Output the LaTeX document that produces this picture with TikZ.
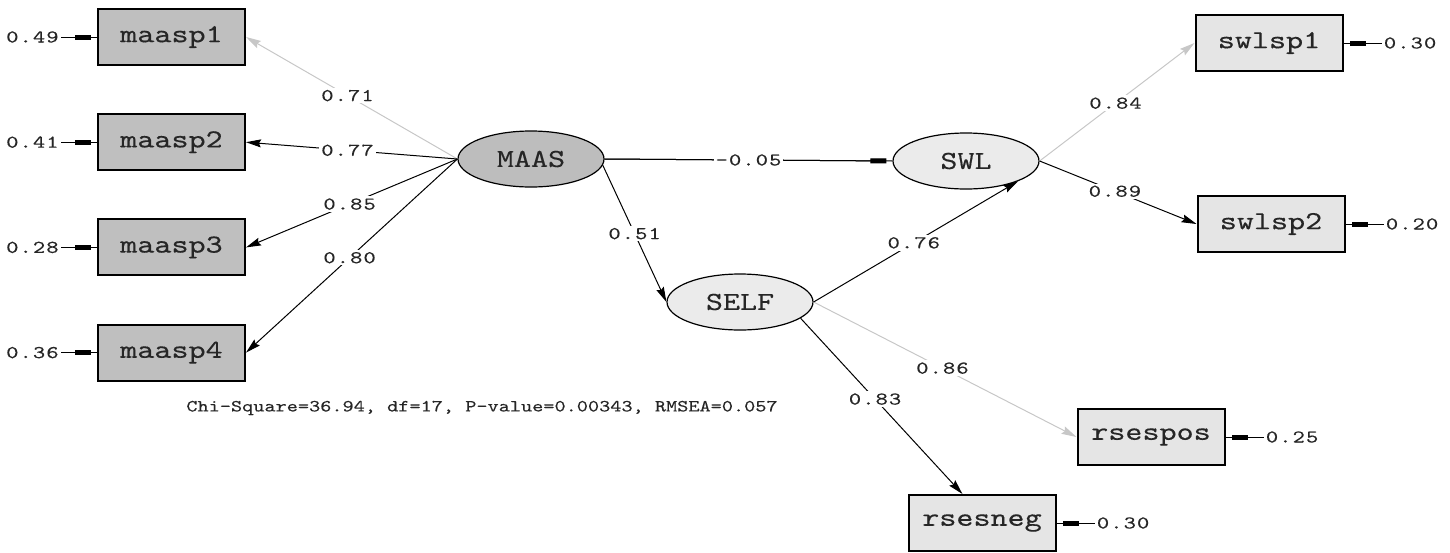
\documentclass[tikz,border=0pt]{standalone}
\usepackage{fontspec}
\usepackage{tikz}
\usetikzlibrary{arrows.meta,positioning,shapes.geometric}
\usepackage{xcolor}
\definecolor{obsdark}{gray}{0.75}
\definecolor{obslight}{gray}{0.90}
\definecolor{latdark}{gray}{0.74}
\definecolor{latlight}{gray}{0.92}
\definecolor{faint}{gray}{0.78}
\newfontfamily\boxfont[FakeStretch=1.25, FakeBold=0.3]{lmmono10-regular.otf}
\newfontfamily\valfont[FakeStretch=1.3, LetterSpace=6, FakeBold=0.2]{lmmono10-regular.otf}
\newfontfamily\fitfont[FakeStretch=1.25, FakeBold=0.2]{lmmono10-regular.otf}

\begin{document}
\begin{tikzpicture}[
  x=0.5pt, y=-0.5pt, node distance=23.6pt,
  b/.style={draw, line width=1pt, minimum width=73.5pt, minimum height=28pt, inner sep=0pt,
    font=\boxfont\fontsize{13}{15}\selectfont, text=black!85},
  obsd/.style={b, fill=obsdark}, obsl/.style={b, fill=obslight},
  lat/.style={ellipse, draw, line width=0.6pt, minimum width=73pt, minimum height=28pt, inner sep=0pt,
    fill=latlight, font=\boxfont\fontsize{13}{15}\selectfont, text=black!85},
  val/.style={fill=white, inner sep=1pt, font=\valfont\fontsize{9}{10}\selectfont, text=black!85},
  arr/.style={-{Stealth[length=7.5pt, width=4pt, inset=1pt]}, line width=0.5pt},
  blk/.style={line width=0.5pt, postaction={draw, -{Rectangle[length=8pt, width=2.5pt]}, shorten >=3pt}},
  pale/.style={draw=faint}]
  \useasboundingbox (0,0) rectangle (1450,552);
  % observed, left
  \node[obsd] (maasp1) at (171.5,37) {maasp1};
  \node[obsd, below=of maasp1] (maasp2) {maasp2};
  \node[obsd, below=of maasp2] (maasp3) {maasp3};
  \node[obsd, below=of maasp3] (maasp4) {maasp4};
  % latent
  \node[lat, fill=latdark] (MAAS) at (531,159) {MAAS};
  \node[lat] (SELF) at (740,302) {SELF};
  \node[lat] (SWL) at (966,161) {SWL};
  % observed, right
  \node[obsl] (swlsp1) at (1269,43) {swlsp1};
  \node[obsl] (swlsp2) at (1271,224) {swlsp2};
  \node[obsl] (rsespos) at (1151,437) {rsespos};
  \node[obsl] (rsesneg) at (982,523) {rsesneg};
  % error variances
  \node[val, left=18pt of maasp1] (e1) {0.49};
  \node[val, left=18pt of maasp2] (e2) {0.41};
  \node[val, left=18pt of maasp3] (e3) {0.28};
  \node[val, left=18pt of maasp4] (e4) {0.36};
  \node[val, right=19pt of swlsp1] (e5) {0.30};
  \node[val, right=19pt of swlsp2] (e6) {0.20};
  \node[val, right=19pt of rsespos] (e7) {0.25};
  \node[val, right=19pt of rsesneg] (e8) {0.30};
  \draw[blk] (e1) -- (maasp1); \draw[blk] (e2) -- (maasp2);
  \draw[blk] (e3) -- (maasp3); \draw[blk] (e4) -- (maasp4);
  \draw[blk] (e5) -- (swlsp1); \draw[blk] (e6) -- (swlsp2);
  \draw[blk] (e7) -- (rsespos); \draw[blk] (e8) -- (rsesneg);
  % loadings
  \draw[arr, pale] (MAAS.west) -- node[val, pos=.52] {0.71} (maasp1.east);
  \draw[arr] (MAAS.west) -- node[val, pos=.52] {0.77} (maasp2.east);
  \draw[arr] (MAAS.west) -- node[val, pos=.51] {0.85} (maasp3.east);
  \draw[arr] (MAAS.west) -- node[val, pos=.51] {0.80} (maasp4.east);
  \draw[arr, pale] (SWL.east) -- node[val, pos=.49] {0.84} (swlsp1.west);
  \draw[arr] (SWL.east) -- node[val, pos=.48] {0.89} (swlsp2.west);
  \draw[arr, pale] (SELF.east) -- node[val, pos=.49] {0.86} (rsespos.west);
  \draw[arr] (SELF.-15) -- node[val, pos=.46] {0.83} (rsesneg.124);
  % structural paths
  \draw[blk] (MAAS.east) -- node[val, pos=.5] {-0.05} (SWL.west);
  \draw[arr] (MAAS.-5) -- node[val, pos=.5] {0.51} (SELF.west);
  \draw[arr] (SELF.east) -- node[val, pos=.49] {0.76} (SWL.south east);
  \node[val, font=\fitfont\fontsize{8.5}{10}\selectfont] (chi) at (482,408) {Chi-Square=36.94, df=17, P-value=0.00343, RMSEA=0.057};
\end{tikzpicture}
\end{document}
